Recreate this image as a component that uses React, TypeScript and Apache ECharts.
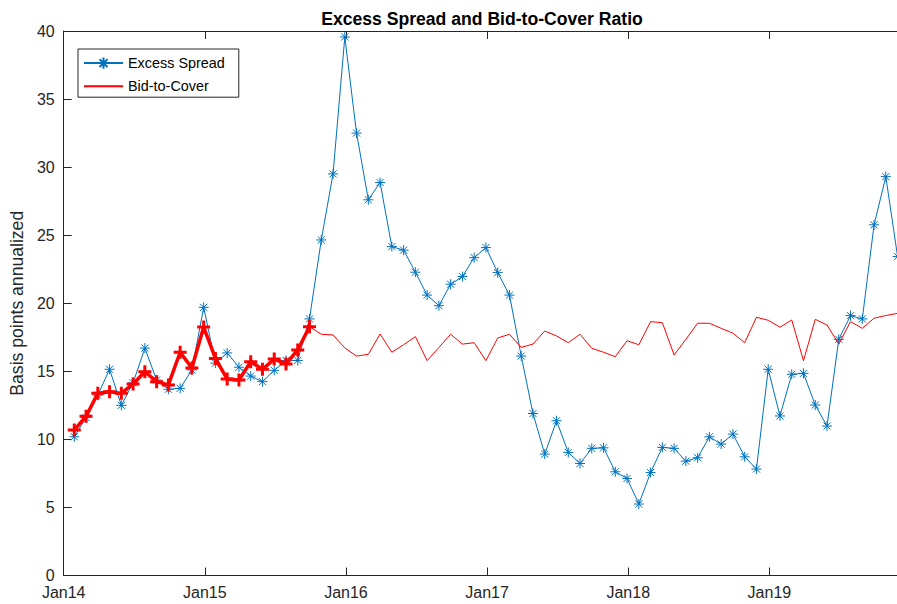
import React, { useEffect, useRef } from "react";
import * as echarts from "echarts";

// Tick labels of the time axis (one per January)
const tickLabels = ["Jan14", "Jan15", "Jan16", "Jan17", "Jan18", "Jan19"];

// Monthly values, Jan 2014 .. Nov 2019 (71 months)
const excessSpread = [
  10.19, 11.6, 13.25, 15.15, 12.5, 14.15, 16.7, 14.36, 13.68, 13.75, 15.1, 19.7,
  15.6, 16.35, 15.3, 14.65, 14.24, 15.07, 15.8, 15.8, 18.85, 24.65, 29.5, 39.56,
  32.5, 27.6, 28.87, 24.16, 23.9, 22.28, 20.6, 19.82, 21.4, 21.96, 23.35, 24.09,
  22.25, 20.6, 16.12, 11.9, 8.92, 11.37, 9.04, 8.23, 9.34, 9.38, 7.62, 7.13,
  5.25, 7.57, 9.41, 9.34, 8.4, 8.65, 10.19, 9.65, 10.39, 8.72, 7.82, 15.15,
  11.72, 14.78, 14.85, 12.52, 10.98, 17.35, 19.09, 18.85, 25.76, 29.3, 23.43,
];

const bidToCover = [
  10.68, 11.7, 13.38, 13.5, 13.38, 14.07, 14.97, 14.24, 14.0, 16.4, 15.25, 18.25,
  15.95, 14.43, 14.36, 15.7, 15.15, 15.9, 15.54, 16.57, 18.28, 17.72, 17.67, 16.72,
  16.12, 16.25, 17.74, 16.4, 16.95, 17.55, 15.78, 16.75, 17.72, 17.0, 17.1, 15.78,
  17.45, 17.72, 16.76, 17.0, 17.96, 17.6, 17.1, 17.72, 16.69, 16.4, 16.07, 17.25,
  16.95, 18.65, 18.57, 16.2, 17.35, 18.53, 18.53, 18.16, 17.8, 17.1, 18.97, 18.75,
  18.24, 18.77, 15.78, 18.82, 18.4, 17.0, 18.65, 18.16, 18.9, 19.1, 19.26,
];

// Number of leading months drawn as the highlighted (thick) Bid-to-Cover segment
const highlightMonths = 21;

const FONT = "'Liberation Sans', Arial, Helvetica, sans-serif";
const AXIS = "#262626";
const BLUE = "#0072BD";
const RED = "#FF0000";

const STAR = "path://M0,5L10,5M5,0L5,10M1.46,1.46L8.54,8.54M1.46,8.54L8.54,1.46";
const PLUS = "path://M0,6L12,6M6,0L6,12";

export default function App() {
  const ref = useRef<HTMLDivElement>(null);

  useEffect(() => {
    if (!ref.current) return;
    const chart = echarts.init(ref.current, null, { renderer: "svg" });

    // month-end positions, measured in months from 1 Jan 2014
    const pos = (i: number) => i + 0.9;
    const esData = excessSpread.map((v, i) => [pos(i), v]);
    const bcData = bidToCover.map((v, i) => [pos(i), v]);
    const hlData = bcData.slice(0, highlightMonths);

    const xMax = 70.85;

    chart.setOption({
      animation: false,
      backgroundColor: "#ffffff",
      title: {
        text: "Excess Spread and Bid-to-Cover Ratio",
        left: 477,
        textAlign: "center",
        top: 5,
        textStyle: {
          fontFamily: FONT,
          fontSize: 17.6,
          fontWeight: "bold",
          color: "#000000",
        },
      },
      legend: {
        data: ["Excess Spread", "Bid-to-Cover"],
        orient: "vertical",
        left: 78,
        top: 49,
        padding: [6, 14, 4, 5],
        itemWidth: 39,
        itemHeight: 14,
        itemGap: 8,
        backgroundColor: "#ffffff",
        borderColor: AXIS,
        borderWidth: 1,
        borderRadius: 0,
        textStyle: { fontFamily: FONT, fontSize: 14.4, color: "#000000" },
        selectedMode: false,
      },
      grid: { left: 61, right: 0, top: 31, bottom: 28.5, containLabel: false },
      xAxis: [
        {
          type: "value",
          min: 0,
          max: xMax,
          interval: 12,
          position: "bottom",
          axisLine: { show: true, lineStyle: { color: AXIS, width: 1 } },
          axisTick: { show: true, inside: true, length: 8, lineStyle: { color: AXIS } },
          axisLabel: {
            show: true,
            showMaxLabel: false,
            margin: 9,
            fontFamily: FONT,
            fontSize: 16,
            color: AXIS,
            formatter: (v: number) => tickLabels[Math.round(v / 12)] ?? "",
          },
          splitLine: { show: false },
        },
        {
          type: "value",
          min: 0,
          max: xMax,
          interval: 12,
          position: "top",
          axisLine: { show: true, lineStyle: { color: AXIS, width: 1 } },
          axisTick: { show: true, inside: true, length: 8, lineStyle: { color: AXIS } },
          axisLabel: { show: false },
          splitLine: { show: false },
        },
      ],
      yAxis: {
        type: "value",
        min: 0,
        max: 40,
        interval: 5,
        name: "Basis points annualized",
        nameLocation: "middle",
        nameGap: 33,
        nameTextStyle: { fontFamily: FONT, fontSize: 17.6, color: AXIS },
        axisLine: { show: true, lineStyle: { color: AXIS, width: 1 } },
        axisTick: { show: true, inside: true, length: 8, lineStyle: { color: AXIS } },
        axisLabel: { margin: 9, fontFamily: FONT, fontSize: 16, color: AXIS },
        splitLine: { show: false },
      },
      series: [
        {
          name: "Excess Spread",
          type: "line",
          data: esData,
          clip: false,
          symbol: STAR,
          symbolSize: 10,
          showAllSymbol: true,
          color: BLUE,
          lineStyle: { color: BLUE, width: 1 },
          itemStyle: { color: "none", borderColor: BLUE, borderWidth: 1 },
          emphasis: { disabled: true },
          z: 2,
        },
        {
          name: "Bid-to-Cover",
          type: "line",
          data: bcData,
          clip: false,
          symbol: "circle",
          showSymbol: false,
          symbolSize: 0,
          lineStyle: { color: RED, width: 1 },
          itemStyle: { color: "rgba(0,0,0,0)", borderColor: "rgba(0,0,0,0)", borderWidth: 0 },
          emphasis: { disabled: true },
          z: 3,
        },
        {
          name: "Bid-to-Cover (highlight)",
          type: "line",
          data: hlData,
          clip: false,
          symbol: PLUS,
          symbolSize: 13,
          showAllSymbol: true,
          color: RED,
          lineStyle: { color: RED, width: 3.5 },
          itemStyle: { color: "none", borderColor: RED, borderWidth: 3 },
          emphasis: { disabled: true },
          z: 4,
        },
      ],
    });

    return () => chart.dispose();
  }, []);

  return (
    <div
      ref={ref}
      style={{ position: "fixed", left: 0, top: 0, width: 897, height: 604 }}
    />
  );
}
